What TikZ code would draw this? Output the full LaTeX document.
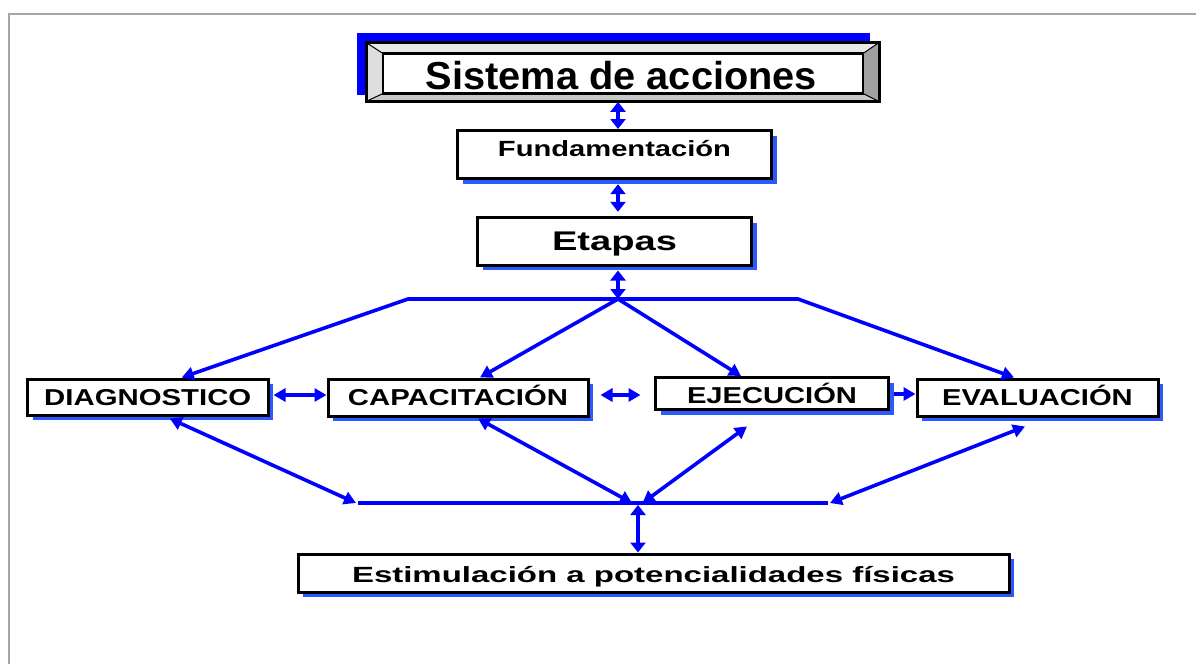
\documentclass[tikz,border=0pt]{standalone}
\usepackage{fontspec}
\setmainfont{Liberation Sans}
\usetikzlibrary{arrows.meta,calc,shadows}
\definecolor{shblue}{RGB}{40,90,255}
\definecolor{lineblue}{RGB}{0,0,255}
\definecolor{bevtop}{RGB}{232,232,232}
\definecolor{bevleft}{RGB}{222,222,222}
\definecolor{bevright}{RGB}{160,160,160}
\definecolor{bevbot}{RGB}{200,200,200}
\newcommand{\lbl}[3]{\resizebox{#2}{\height}{\fontsize{#1}{#1}\selectfont\bfseries #3}}
\begin{document}
\begin{tikzpicture}[x=0.5pt,y=-0.5pt,
  box/.style={draw=black, line width=1.5pt, fill=white, inner sep=0pt,
    text height=8.2pt, text depth=0pt,
    drop shadow={shadow xshift=2.5pt, shadow yshift=-2.5pt, fill=shblue, opacity=1}},
  conn/.style={draw=lineblue, line width=1.8pt, >={Triangle[width=6.5pt,length=6pt]}},
  vd/.style={draw=lineblue, line width=2.4pt, <->, >={Triangle[width=7.5pt,length=5pt]}}]
\useasboundingbox (0,0) rectangle (1196,664);
% frame
\draw[gray!70, line width=0.6pt] (9,664) -- (9,14) -- (1196,14);
% Sistema de acciones (bevelled)
\fill[lineblue] (357,33) rectangle (870,95);
\fill[bevtop] (366,42.5) rectangle (879,101.5);
\fill[bevleft] (366,42.5) -- (383,53.5) -- (383,93.5) -- (366,101.5) -- cycle;
\fill[bevright] (879,42.5) -- (863,53.5) -- (863,93.5) -- (879,101.5) -- cycle;
\fill[bevbot] (366,101.5) -- (383,93.5) -- (863,93.5) -- (879,101.5) -- cycle;
\draw[black, line width=0.5pt] (366,42.5) -- (383,53.5) (879,42.5) -- (863,53.5)
  (366,101.5) -- (383,93.5) (879,101.5) -- (863,93.5);
\draw[black, line width=1.2pt, fill=white] (383,53.5) rectangle (863,93.5);
\draw[black, line width=1.5pt] (366,42.5) rectangle (879,101.5);
\node[inner sep=0pt, minimum width=256.5pt, minimum height=29.5pt, text height=17.5pt, text depth=0pt]
  (sis) at (621.5,72) {\lbl{19.5}{195.5pt}{Sistema de acciones}};
% boxes
\node[box, minimum width=157pt, minimum height=24pt, text height=7.9pt, text depth=5.5pt] (fund) at (614.5,154.5)
  {\lbl{11}{116.5pt}{Fundamentación}};
\node[box, minimum width=137pt, minimum height=23.75pt, text height=9.7pt] (etap) at (614.5,241.25)
  {\lbl{13.5}{62.5pt}{Etapas}};
\node[box, minimum width=120.25pt, minimum height=18pt] (diag) at (147.75,397)
  {\lbl{11.5}{103.5pt}{DIAGNOSTICO}};
\node[box, minimum width=130pt, minimum height=18.5pt] (cap) at (458,397.5)
  {\lbl{11.5}{110pt}{CAPACITACIÓN}};
\node[box, minimum width=116.5pt, minimum height=16pt, text height=10.2pt] (ejec) at (772,393.5)
  {\lbl{11.5}{85pt}{EJECUCIÓN}};
\node[box, minimum width=120.5pt, minimum height=18.5pt] (eval) at (1037.5,397.5)
  {\lbl{11.5}{95.25pt}{EVALUACIÓN}};
\node[box, minimum width=355.5pt, minimum height=19pt, text height=9pt] (estim) at (653.5,573)
  {\lbl{11}{301.5pt}{Estimulación a potencialidades físicas}};
% coordinates
\coordinate (tl) at (408,299);
\coordinate (tr) at (798,299);
\coordinate (tj) at (618,299);
\coordinate (bl) at (358,503);
\coordinate (br) at (828,503);
\coordinate (bj) at (638,503);
% vertical arrows
\draw[vd] ([xshift=-1.75pt]sis.south) -- ([xshift=1.75pt]fund.north);
\draw[vd] ([xshift=1.75pt,yshift=-2.1pt]fund.south) -- ([xshift=1.75pt,yshift=2.1pt]etap.north);
\draw[vd] ([xshift=1.75pt,yshift=-2pt]etap.south) -- (tj);
% top distribution
\draw[conn,<->] ([xshift=17pt]diag.north) -- (tl) -- (tr) -- ([xshift=-11.75pt]eval.north);
\draw[conn,->] (tj) -- ([xshift=11pt]cap.north);
\draw[conn,->] (tj) -- ([xshift=-15.5pt]ejec.north);
% horizontal arrows
\draw[conn,<->] ([xshift=2pt,yshift=1pt]diag.east) -- ([yshift=1.25pt]cap.west);
\draw[conn,<->] ([xshift=5.5pt,yshift=1.25pt]cap.east) -- ([xshift=-6.75pt,yshift=-0.75pt]ejec.west);
\draw[conn,->] ([xshift=1.75pt,yshift=-0.25pt]ejec.east) -- ([yshift=1.75pt]eval.west);
% bottom collection
\draw[conn] (bl) -- (br);
\draw[conn,<->] ([xshift=11pt,yshift=-1pt]diag.south) -- ([xshift=-1pt]bl);
\draw[conn,<->] ([xshift=10pt,yshift=-0.5pt]cap.south) -- ([xshift=-3pt]bj);
\draw[conn,<->] ([xshift=-12.5pt,yshift=-7.75pt]ejec.south) -- ([xshift=2.25pt]bj);
\draw[conn,<->] ([xshift=-6.25pt,yshift=-4.5pt]eval.south) -- ([xshift=1pt]br);
\draw[vd] ([yshift=-1pt]bj) -- ([xshift=-7.75pt]estim.north);
\end{tikzpicture}
\end{document}
